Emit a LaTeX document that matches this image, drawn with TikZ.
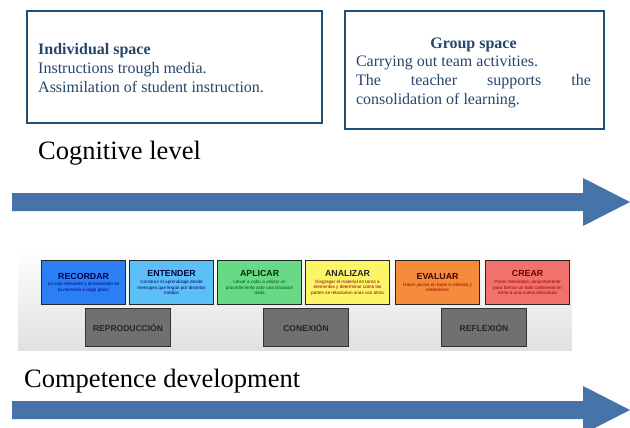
\documentclass[tikz,border=0pt]{standalone}
\usepackage{fontspec}
\setmainfont{Liberation Serif}
\newfontfamily\arialf{Liberation Sans}
\definecolor{boxblue}{RGB}{31,78,121}
\definecolor{txtblue}{RGB}{38,70,108}
\definecolor{arrowblue}{RGB}{70,115,168}
\definecolor{cRec}{RGB}{43,127,245}
\definecolor{cEnt}{RGB}{92,192,246}
\definecolor{cApl}{RGB}{104,217,134}
\definecolor{cAna}{RGB}{252,245,104}
\definecolor{cEva}{RGB}{244,140,60}
\definecolor{cCre}{RGB}{240,114,106}
\definecolor{cGray}{RGB}{112,112,112}
\newcommand{\bloomtext}[4]{\parbox{82pt}{\centering
  {\arialf\bfseries\fontsize{8.8}{10}\selectfont\color{#1}#2\par}
  \vspace{1.5pt}
  {\arialf\fontsize{4.6}{5.4}\selectfont\color{#3}#4\par}}}
\begin{document}
\begin{tikzpicture}[x=1pt,y=-1pt,
  spacebox/.style={draw=boxblue,line width=2.4pt,fill=white,inner sep=0pt,anchor=north west},
  bigtxt/.style={font=\fontsize{26.5}{30}\selectfont,anchor=base west,inner sep=0pt},
  bloom/.style={draw=black!85,line width=1.2pt,anchor=north west,minimum width=84pt,minimum height=44pt,inner sep=0pt},
  level/.style={draw=black!80,line width=1pt,fill=cGray,anchor=north west,minimum width=85pt,minimum height=38pt,inner sep=0pt,font=\arialf\bfseries\fontsize{8.5}{10}\selectfont,text=black!85}]
\useasboundingbox (0,0) rectangle (630,428);
\clip (0,0) rectangle (630,428);
% top boxes
\node[spacebox,minimum width=295pt,minimum height=112pt] (ind) at (26,10) {};
\node[anchor=west,inner sep=0pt,text=txtblue,font=\fontsize{16}{19}\selectfont,align=left] (indtxt) at (38,68)
  {\textbf{Individual space}\\Instructions trough media.\\Assimilation of student instruction.};
\node[spacebox,minimum width=259pt,minimum height=118pt] (grp) at (344,10) {};
\node[inner sep=0pt,text=txtblue] (grptxt) at (473.5,72.5)
  {\parbox{235pt}{\fontsize{16}{18.7}\selectfont\parindent=0pt\hyphenpenalty=10000\tolerance=10000
  {\centering\textbf{Group space}\par}
  Carrying out team activities.\par
  The teacher supports the consolidation of learning.\par}};
% cognitive level
\node[bigtxt] (cog) at (38,160) {Cognitive level};
\fill[arrowblue] (12,193) -- (583,193) -- (583,178) -- (630,202) -- (583,226) -- (583,211) -- (12,211) -- cycle;
% embedded image
\shade[top color=white,bottom color=black!12] (18,250) rectangle (572,350);
\node[bloom,fill=cRec] (rec) at (41,260) {\bloomtext{blue!30!black}{RECORDAR}{blue!50!black}{Lo más relevante y almacenarlo en\\la memoria a largo plazo}};
\node[bloom,fill=cEnt] (ent) at (129,260) {\bloomtext{blue!25!black}{ENTENDER}{blue!45!black}{Construir el aprendizaje desde\\mensajes que llegan por distintos\\medios}};
\node[bloom,fill=cApl] (apl) at (217,260) {\bloomtext{green!20!black}{APLICAR}{green!35!black}{Llevar a cabo o utilizar un\\procedimiento ante una situación\\dada}};
\node[bloom,fill=cAna] (ana) at (305,260) {\bloomtext{black!85}{ANALIZAR}{red!55!black}{Disgregar el material en torno a\\elementos y determinar como las\\partes se relacionan unas con otras}};
\node[bloom,fill=cEva] (eva) at (395,260) {\bloomtext{red!25!black}{EVALUAR}{red!65!black}{Hacer juicios en base a criterios y\\estándares}};
\node[bloom,fill=cCre] (cre) at (485,260) {\bloomtext{red!45!black}{CREAR}{red!60!black}{Poner elementos conjuntamente\\para formar un todo coherente en\\torno a una nueva estructura}};
\node[level] (rep) at (85,308) {REPRODUCCIÓN};
\node[level] (con) at (263,308) {CONEXIÓN};
\node[level] (ref) at (441,308) {REFLEXIÓN};
% competence development
\node[bigtxt] (comp) at (24,387) {Competence development};
\fill[arrowblue] (12,401) -- (583,401) -- (583,386) -- (630,410) -- (583,434) -- (583,419) -- (12,419) -- cycle;
\end{tikzpicture}
\end{document}
